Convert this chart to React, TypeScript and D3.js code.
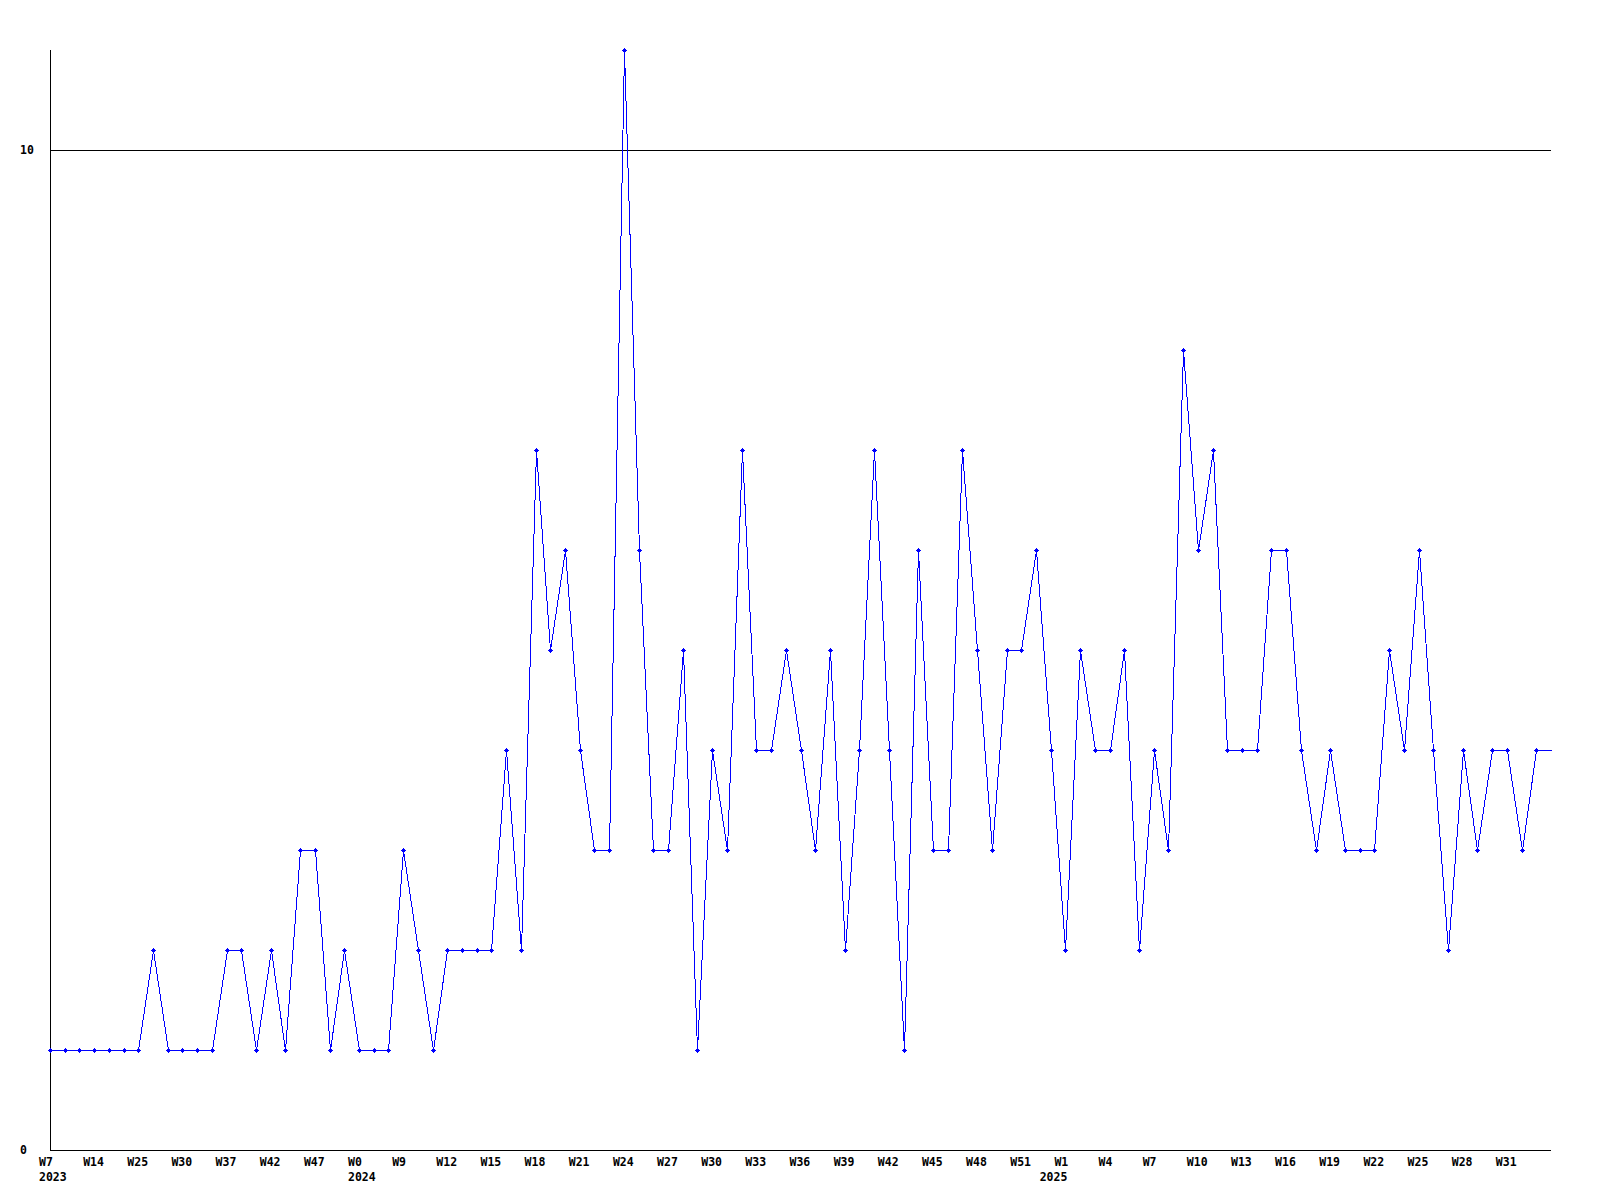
import React from "react";
import * as d3 from "d3";

const values: number[] = [
  1, 1, 1, 1, 1, 1, 1, 2, 1, 1,
  1, 1, 2, 2, 1, 2, 1, 3, 3, 1,
  2, 1, 1, 1, 3, 2, 1, 2, 2, 2,
  2, 4, 2, 7, 5, 6, 4, 3, 3, 11,
  6, 3, 3, 5, 1, 4, 3, 7, 4, 4,
  5, 4, 3, 5, 2, 4, 7, 4, 1, 6,
  3, 3, 7, 5, 3, 5, 5, 6, 4, 2,
  5, 4, 4, 5, 2, 4, 3, 8, 6, 7,
  4, 4, 4, 6, 6, 4, 3, 4, 3, 3,
  3, 5, 4, 6, 4, 2, 4, 3, 4, 4,
  3, 4,
];

const weekLabels: string[] = [
  "W7", "W14", "W25", "W30", "W37", "W42", "W47", "W0", "W9", "W12", "W15", "W18",
  "W21", "W24", "W27", "W30", "W33", "W36", "W39", "W42", "W45", "W48", "W51",
  "W1", "W4", "W7", "W10", "W13", "W16", "W19", "W22", "W25", "W28", "W31",
];
const labelEvery = 3;

// year labels placed at the first data point of each year (point index)
const yearLabels: { label: string; point: number }[] = [
  { label: "2023", point: 0 },
  { label: "2024", point: 21 },
  { label: "2025", point: 68 },
];

const yTicks: number[] = [0, 10];
const gridValues: number[] = [10];

const W = 1600;
const H = 1200;
const left = 50;
const right = 1551;
const top = 50;
const bottom = 1150;
const FONT = "'DejaVu Sans Mono', 'Liberation Mono', monospace";
const BLUE = "#0000ff";

export default function App() {
  const n = values.length;
  const x = d3.scaleLinear().domain([0, n]).range([left, right]);
  const yMax = d3.max(values) as number;
  const y = d3.scaleLinear().domain([0, yMax]).range([bottom, top]);

  const pts: [number, number][] = values.map((v, i) => [i, v]);
  const ext: [number, number][] = [...pts, [n, values[n - 1]]];
  const line = d3
    .line<[number, number]>()
    .x((d) => Math.round(x(d[0])) + 0.5)
    .y((d) => Math.round(y(d[1])) + 0.5);

  const marker = (cx: number, cy: number) =>
    `M${cx - 2.5},${cy - 0.5}h2v-2h1v2h2v1h-2v2h-1v-2h-2z M${cx - 1.5},${cy - 1.5}h3v3h-3z`;

  return (
    <svg
      width={W}
      height={H}
      style={{ position: "absolute", left: 0, top: 0, background: "#fff" }}
      fontFamily={FONT}
    >
      <rect x={0} y={0} width={W} height={H} fill="#fff" />
      {gridValues.map((g) => (
        <line
          key={"g" + g}
          x1={left}
          x2={right}
          y1={Math.round(y(g)) + 0.5}
          y2={Math.round(y(g)) + 0.5}
          stroke="#000"
          strokeWidth={1}
          shapeRendering="crispEdges"
        />
      ))}
      <line x1={left + 0.5} x2={left + 0.5} y1={top} y2={bottom + 0.5} stroke="#000" shapeRendering="crispEdges" />
      <line x1={left} x2={right} y1={bottom + 0.5} y2={bottom + 0.5} stroke="#000" shapeRendering="crispEdges" />
      {yTicks.map((t) => (
        <text key={"y" + t} x={20} y={y(t) + 4} fontSize={11.5} fontWeight="bold" fill="#000">
          {String(t)}
        </text>
      ))}
      {weekLabels.map((l, k) => (
        <text
          key={"w" + k}
          x={x(k * labelEvery) - 11}
          y={bottom + 16}
          fontSize={11.5}
          fontWeight="bold"
          fill="#000"
        >
          {l}
        </text>
      ))}
      {yearLabels.map((yl) => (
        <text
          key={"yr" + yl.label}
          x={x(yl.point) - 11}
          y={bottom + 31}
          fontSize={11.5}
          fontWeight="bold"
          fill="#000"
        >
          {yl.label}
        </text>
      ))}
      <path d={line(ext) || ""} fill="none" stroke={BLUE} strokeWidth={1} shapeRendering="crispEdges" />
      {pts.map((d, i) => {
        const cx = Math.round(x(d[0])) + 0.5;
        const cy = Math.round(y(d[1])) + 0.5;
        return <path key={"m" + i} d={marker(cx, cy)} fill={BLUE} shapeRendering="crispEdges" />;
      })}
    </svg>
  );
}
